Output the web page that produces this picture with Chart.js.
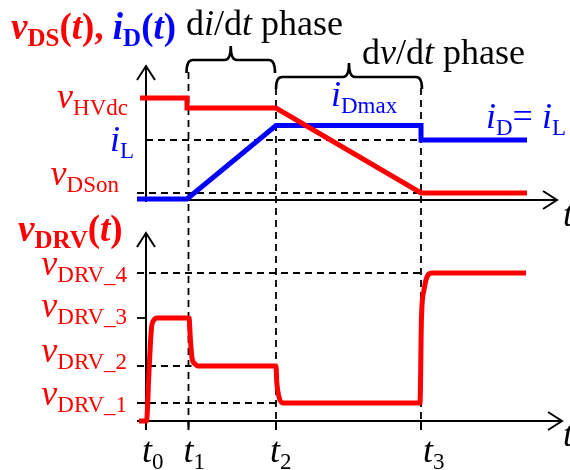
<!DOCTYPE html>
<html>
<head>
<meta charset="utf-8">
<script src="https://cdn.jsdelivr.net/npm/chart.js@4"></script>
<style>
  html, body { margin: 0; padding: 0; background: #ffffff; }
  #wrap { position: relative; width: 570px; height: 470px; }
  canvas { display: block; }
</style>
</head>
<body>
<div id="wrap"><canvas id="c" width="570" height="470"></canvas></div>
<script>
// Switching instants t0..t3 (time units)
const switchTimes = [0, 4.25, 13.0, 27.5];
const switchLabels = ['0', '1', '2', '3'];

// Upper panel: drain-source voltage and drain current
const vdsTime  = [-0.6, 4.1, 4.1, 13.0, 27.5, 38.1];
const vdsValue = [10.2, 10.2, 9.2, 9.2, 0.7, 0.7];
const idTime   = [-0.9, 4.1, 13.0, 27.5, 27.5, 38.1];
const idValue  = [0.1, 0.1, 7.45, 7.45, 6.0, 6.0];

// Upper panel reference levels
const levelHVdc = 10.2;
const levelIL = 6.0;
const levelDSon = 0.7;
const levelIDmax = 7.45;

// Lower panel: gate driver voltage
const drvTime  = [-0.7, 0.05, 0.3, 0.55, 0.8, 1.1, 4.3, 4.45, 4.6, 4.9, 5.2, 13.0, 13.07, 13.3, 13.7, 27.4, 27.55, 27.8, 28.2, 28.6, 38.0];
const drvValue = [0, 0, 5.0, 9.3, 10.1, 10.3, 10.3, 8.0, 6.3, 5.7, 5.5, 5.5, 4.0, 2.4, 1.8, 1.8, 10.4, 13.1, 14.6, 14.8, 14.8];

// Lower panel reference levels (vDRV_1 .. vDRV_4)
const drvLevels = [1.8, 5.5, 10.3, 14.8];
const drvLevelNames = ['DRV_1', 'DRV_2', 'DRV_3', 'DRV_4'];

const RED = '#ff0000';
const BLUE = '#0000ff';
const SERIF = '"Liberation Serif", "Times New Roman", serif';

function pts(xs, ys) { return xs.map((x, i) => ({ x: x, y: ys[i] })); }

// Draw a sequence of styled text runs on a common baseline
function runs(ctx, x, y, list, align) {
  let w = 0;
  list.forEach(r => { ctx.font = r.f; w += ctx.measureText(r.t).width; });
  let cx = align === 'right' ? x - w : (align === 'center' ? x - w / 2 : x);
  ctx.textBaseline = 'alphabetic';
  ctx.textAlign = 'left';
  list.forEach(r => {
    ctx.font = r.f;
    ctx.fillStyle = r.c;
    ctx.fillText(r.t, cx, y + (r.dy || 0));
    cx += ctx.measureText(r.t).width;
  });
}

const MAIN_I = 'italic 36px ' + SERIF;
const MAIN_R = '36px ' + SERIF;
const SUB = '23px ' + SERIF;
const SUBDY = 7;

function varLabel(sym, sub, color) {
  return [{ t: sym, f: MAIN_I, c: color }, { t: sub, f: SUB, c: color, dy: SUBDY }];
}

const annotations = {
  id: 'annotations',
  beforeDatasetsDraw(chart) {
    const ctx = chart.ctx;
    const sx = chart.scales.x, st = chart.scales.yTop, sb = chart.scales.yBot;
    const X = v => sx.getPixelForValue(v);
    const YT = v => st.getPixelForValue(v);
    const YB = v => sb.getPixelForValue(v);
    ctx.save();
    ctx.strokeStyle = '#000';
    ctx.lineCap = 'butt';

    // dashed guides
    ctx.setLineDash([7, 5]);
    ctx.lineWidth = 1.8;
    const hline = (x0, x1, y) => { ctx.beginPath(); ctx.moveTo(x0, y); ctx.lineTo(x1, y); ctx.stroke(); };
    const vline = (x, y0, y1) => { ctx.beginPath(); ctx.moveTo(x, y0); ctx.lineTo(x, y1); ctx.stroke(); };
    hline(X(0), X(switchTimes[3]), YT(levelIL));
    hline(X(-0.9), X(switchTimes[3]), YT(levelDSon));
    hline(X(-0.9), X(switchTimes[3]), YB(drvLevels[3]));
    hline(X(-0.9), X(switchTimes[1] + 0.3), YB(drvLevels[1]));
    hline(X(-0.9), X(switchTimes[2] + 0.7), YB(drvLevels[0]));
    vline(X(switchTimes[1]), YT(12.8), YB(-0.9));
    vline(X(switchTimes[2]), YT(11.2), YB(-0.9));
    vline(X(switchTimes[3]), YT(11.2), YB(-0.9));
    ctx.setLineDash([]);
    hline(X(-0.9), X(0.1), YB(drvLevels[2]));

    // axes with open arrow heads
    ctx.lineWidth = 2;
    const arrowUp = (x, y) => { ctx.beginPath(); ctx.moveTo(x - 9, y + 14); ctx.lineTo(x, y); ctx.lineTo(x + 9, y + 14); ctx.stroke(); };
    const arrowRight = (x, y) => { ctx.beginPath(); ctx.moveTo(x - 14, y - 9); ctx.lineTo(x, y); ctx.lineTo(x - 14, y + 9); ctx.stroke(); };
    vline(X(0), YT(-0.2), YT(13.4)); arrowUp(X(0), YT(13.4));
    hline(X(-0.9), X(41.1), YT(0)); arrowRight(X(41.1), YT(0));
    vline(X(0), YB(-0.9), YB(18.8)); arrowUp(X(0), YB(18.8));
    hline(X(-0.9), X(41.6), YB(0)); arrowRight(X(41.6), YB(0));
    switchTimes.slice(1).forEach(t => vline(X(t), YB(0), YB(-0.9)));
    hline(X(-0.9), X(0), YB(drvLevels[0]));

    // phase braces
    ctx.lineWidth = 2.6;
    const brace = (x0, x1, yMid, yEnd, yTip) => {
      const xc = (x0 + x1) / 2, r = 6;
      ctx.beginPath();
      ctx.moveTo(x0, yEnd);
      ctx.quadraticCurveTo(x0, yMid, x0 + r, yMid);
      ctx.lineTo(xc - r, yMid);
      ctx.quadraticCurveTo(xc, yMid, xc, yTip);
      ctx.quadraticCurveTo(xc, yMid, xc + r, yMid);
      ctx.lineTo(x1 - r, yMid);
      ctx.quadraticCurveTo(x1, yMid, x1, yEnd);
      ctx.stroke();
    };
    brace(X(switchTimes[1] - 0.2), X(switchTimes[2] - 0.1), YT(14.0), YT(12.7), YT(15.4));
    brace(X(switchTimes[2]), X(switchTimes[3] + 0.1), YT(12.3), YT(11.1), YT(13.7));
    ctx.restore();
  },
  afterDatasetsDraw(chart) {
    const ctx = chart.ctx;
    const sx = chart.scales.x, st = chart.scales.yTop, sb = chart.scales.yBot;
    const X = v => sx.getPixelForValue(v);
    const YT = v => st.getPixelForValue(v);
    const YB = v => sb.getPixelForValue(v);
    ctx.save();

    // panel titles
    const TB = 'bold 37px ' + SERIF, TBI = 'bold italic 37px ' + SERIF, TS = 'bold 25px ' + SERIF;
    runs(ctx, 11, 39, [
      { t: 'v', f: TBI, c: RED }, { t: 'DS', f: TS, c: RED, dy: SUBDY },
      { t: '(', f: TB, c: RED }, { t: 't', f: TBI, c: RED }, { t: '),', f: TB, c: RED },
      { t: ' ', f: TB, c: RED },
      { t: 'i', f: TBI, c: BLUE }, { t: 'D', f: TS, c: BLUE, dy: SUBDY },
      { t: '(', f: TB, c: BLUE }, { t: 't', f: TBI, c: BLUE }, { t: ')', f: TB, c: BLUE }
    ]);
    runs(ctx, 18, 241, [
      { t: 'v', f: TBI, c: RED }, { t: 'DRV', f: TS, c: RED, dy: SUBDY },
      { t: '(', f: TB, c: RED }, { t: 't', f: TBI, c: RED }, { t: ')', f: TB, c: RED }
    ]);

    // phase names
    runs(ctx, 186, 35, [
      { t: 'd', f: MAIN_R, c: '#000' }, { t: 'i', f: MAIN_I, c: '#000' }, { t: '/d', f: MAIN_R, c: '#000' },
      { t: 't', f: MAIN_I, c: '#000' }, { t: ' phase', f: MAIN_R, c: '#000' }
    ]);
    runs(ctx, 362, 64, [
      { t: 'd', f: MAIN_R, c: '#000' }, { t: 'v', f: MAIN_I, c: '#000' }, { t: '/d', f: MAIN_R, c: '#000' },
      { t: 't', f: MAIN_I, c: '#000' }, { t: ' phase', f: MAIN_R, c: '#000' }
    ]);

    // upper panel level labels
    runs(ctx, 128, YT(levelHVdc) + 10, varLabel('v', 'HVdc', RED), 'right');
    runs(ctx, 134, YT(levelIL) + 11, varLabel('i', 'L', BLUE), 'right');
    runs(ctx, 119, YT(levelDSon) - 8, varLabel('v', 'DSon', RED), 'right');
    runs(ctx, 331, YT(levelIDmax) - 20, varLabel('i', 'Dmax', BLUE));
    runs(ctx, 486, YT(levelIL) - 12, [
      { t: 'i', f: MAIN_I, c: BLUE }, { t: 'D', f: SUB, c: BLUE, dy: SUBDY },
      { t: '= ', f: MAIN_R, c: BLUE }, { t: 'i', f: MAIN_I, c: BLUE }, { t: 'L', f: SUB, c: BLUE, dy: SUBDY }
    ]);

    // lower panel level labels
    const drvDy = [2, -4, -1, 2];
    drvLevels.forEach((lv, i) => runs(ctx, 127, YB(lv) + drvDy[i], varLabel('v', drvLevelNames[i], RED), 'right'));

    // time axis labels
    const tdx = [-4, -5, -6, 2];
    switchTimes.forEach((t, i) => runs(ctx, X(t) + tdx[i], 462, varLabel('t', switchLabels[i], '#000')));
    runs(ctx, 563, 226, [{ t: 't', f: MAIN_I, c: '#000' }]);
    runs(ctx, 563, 446, [{ t: 't', f: MAIN_I, c: '#000' }]);
    ctx.restore();
  }
};

new Chart(document.getElementById('c'), {
  type: 'line',
  data: {
    datasets: [
      { data: pts(vdsTime, vdsValue), yAxisID: 'yTop', borderColor: RED, borderWidth: 5, tension: 0 },
      { data: pts(idTime, idValue), yAxisID: 'yTop', borderColor: BLUE, borderWidth: 5, tension: 0 },
      { data: pts(drvTime, drvValue), yAxisID: 'yBot', borderColor: RED, borderWidth: 5, cubicInterpolationMode: 'monotone' }
    ]
  },
  options: {
    responsive: false,
    animation: false,
    devicePixelRatio: 1,
    layout: { padding: 0 },
    elements: { point: { radius: 0 }, line: { borderJoinStyle: 'miter', borderCapStyle: 'butt' } },
    plugins: { legend: { display: false }, tooltip: { enabled: false }, title: { display: false } },
    scales: {
      x: { type: 'linear', min: -14.6, max: 42.4, display: false },
      yTop: { type: 'linear', position: 'left', min: -27, max: 20, display: false },
      yBot: { type: 'linear', position: 'left', min: -4.9, max: 42.1, display: false }
    }
  },
  plugins: [annotations]
});
</script>
</body>
</html>
